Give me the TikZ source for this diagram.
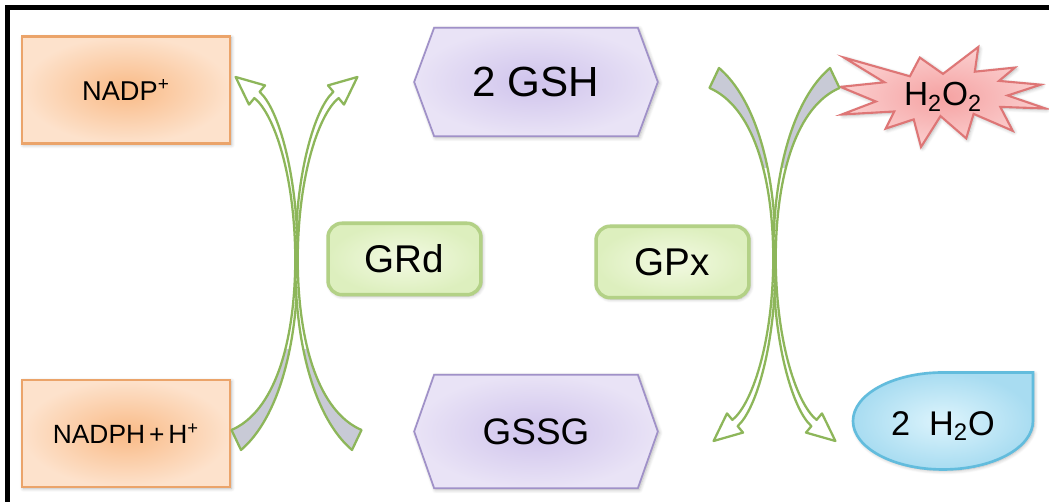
\documentclass[tikz,border=0pt]{standalone}
\usepackage{fontspec}
\setmainfont{Liberation Sans}
\usetikzlibrary{shadows.blur}

\definecolor{saltin}{HTML}{F9BA86}
\definecolor{saltout}{HTML}{FDE2CC}
\definecolor{saltedge}{HTML}{EBA46A}
\definecolor{thiolin}{HTML}{CFC3EC}
\definecolor{thiolout}{HTML}{E9E3F6}
\definecolor{thioledge}{HTML}{A091C8}
\definecolor{enzin}{HTML}{F3FAE3}
\definecolor{enzout}{HTML}{DDEFBE}
\definecolor{enzedge}{HTML}{B3D186}
\definecolor{burstin}{HTML}{F5A2A2}
\definecolor{burstout}{HTML}{FBCFCF}
\definecolor{burstedge}{HTML}{DE7676}
\definecolor{dropin}{HTML}{DDF4FC}
\definecolor{dropout}{HTML}{A8DCF1}
\definecolor{dropedge}{HTML}{62BCDD}
\definecolor{arrowgreen}{HTML}{8DB65A}
\definecolor{tailgrey}{HTML}{C8CAD6}

\tikzset{soft/.style={blur shadow={shadow blur steps=6,shadow xshift=0.8pt,
                       shadow yshift=-0.8pt,shadow opacity=30}}}
\tikzset{basic/.style={soft,text badly centered}}

% outline of one bent block arrow: tail at the origin, head up and to the right
\def\arrowoutline{(-4.5,10) .. controls (37.9,28.4) and (58.8,95) .. (59.3,180)
  .. controls (59,265) and (78.6,331.6) .. (97.4,348.1)
  -- (92,354.6) -- (121.4,363) -- (108,335.4) -- (102.6,341.9)
  .. controls (83.05,326.2) and (62,265) .. (61.7,180)
  .. controls (62.2,95) and (42.1,21.6) .. (5,-10) -- cycle}

% #1 tail point, #2 and #3 flip the arrow (1 or -1)
\newcommand\bentarrow[3]{%
  \begin{scope}[shift={#1}, xscale=#2, yscale=#3]
    \fill[white] \arrowoutline;
    \begin{scope}
      \clip (-20,-20) rectangle (140,90);
      \fill[tailgrey] \arrowoutline;
    \end{scope}
    \draw[arrowgreen, line width=1.3pt, line join=round] \arrowoutline;
  \end{scope}}

\begin{document}
\begin{tikzpicture}[x=0.02cm, y=0.02cm,
      % styles for the boxes
      cofactor/.style={basic, draw=saltedge, line width=1.6pt, inner color=saltin,
                       outer color=saltout, minimum width=4.16cm, minimum height=2.14cm},
      thiol/.style   ={minimum width=4.86cm, minimum height=2.16cm, inner sep=0pt},
      hexagon/.style ={soft, draw=thioledge, line width=1pt, line join=miter,
                       inner color=thiolin, outer color=thiolout},
      enzyme/.style  ={basic, draw=enzedge, line width=2pt, rounded corners=8pt,
                       inner color=enzin, outer color=enzout,
                       minimum width=3.06cm, minimum height=1.43cm,
                       font=\fontsize{22}{26}\selectfont}
    ]
    \useasboundingbox (0,0) rectangle (1049,502);

    % frame, only the left and top edges show
    \draw[line width=2.8pt] (7.5,0) -- (7.5,494.5) -- (1049,494.5);

    % cofactors on the left
    \node[cofactor, font=\fontsize{15.5}{18}\selectfont] (nadp) at (126,412)
      {NADP\textsuperscript{+}\hspace{0.3em}};
    \node[cofactor, font=\fontsize{15}{18}\selectfont] (nadph) at (126,68.5)
      {NADPH\hspace{0.15em}+\hspace{0.15em}H\textsuperscript{+}\hspace{0.6em}};

    % glutathione, reduced and oxidised
    \node[thiol] (gsh) at (536,420) {};
    \node[thiol, minimum height=2.26cm] (gssg) at (536,70.5) {};
    \foreach \g in {gsh,gssg}
      \draw[hexagon] (\g.west) -- ([xshift=0.4cm]\g.north west)
        -- ([xshift=-0.4cm]\g.north east) -- (\g.east)
        -- ([xshift=-0.4cm]\g.south east) -- ([xshift=0.4cm]\g.south west) -- cycle;
    \node[font=\fontsize{24}{28}\selectfont] (gshlabel) at (gsh) {2 GSH};
    \node[font=\fontsize{21}{25}\selectfont] (gssglabel) at (gssg) {GSSG};

    % enzymes
    \node[enzyme] (grd) at (404.5,243) {GRd};
    \node[enzyme] (gpx) at (672.5,240) {GPx};

    % peroxide burst
    \coordinate (burst) at (943,405);
    \begin{scope}[shift={(burst)}]
      \draw[soft, draw=burstedge, line width=1.2pt, line join=miter,
            inner color=burstin, outer color=burstout]
        (0,23.1) -- (35.3,50) -- (31.8,25.3) -- (71.9,29.4) -- (56,16.1)
        -- (97.7,12.3) -- (64.6,1.5) -- (102.5,-11.5) -- (57.3,-9.9)
        -- (69.7,-33.8) -- (30.6,-16.9) -- (23.2,-41.4) -- (-2.5,-19.1)
        -- (-22,-50) -- (-29.3,-22.4) -- (-57.3,-31.6) -- (-48.7,-14.5)
        -- (-101.2,-17.5) -- (-67.2,-4.5) -- (-102.5,10.1) -- (-58.6,14.7)
        -- (-99,39.4) -- (-33.1,20.7) -- (-23.2,39.4) -- cycle;
    \end{scope}
    \node[font=\fontsize{19}{22}\selectfont] (h2o2) at (burst)
      {H\textsubscript{2}O\textsubscript{2}};

    % water drop
    \coordinate (drop) at (943,81);
    \draw[soft, draw=dropedge, line width=1.5pt, inner color=dropin, outer color=dropout]
      ([shift={(90,48.5)}]drop) -- ++(0,-48.5)
      arc[start angle=0, end angle=-270, x radius=90, y radius=48.5] -- cycle;
    \node[font=\fontsize{19.5}{23}\selectfont] (h2o) at ([yshift=-0.1cm]drop)
      {2~ H\textsubscript{2}O};

    % GRd cycle
    \coordinate (grdin)  at (236,62);
    \coordinate (grdout) at (357,62);
    \bentarrow{(grdin)}{1}{1}
    \bentarrow{(grdout)}{-1}{1}

    % GPx cycle
    \coordinate (gpxin)  at (714,424);
    \coordinate (gpxout) at (835,424);
    \bentarrow{(gpxin)}{1}{-1}
    \bentarrow{(gpxout)}{-1}{-1}
  \end{tikzpicture}
\end{document}
